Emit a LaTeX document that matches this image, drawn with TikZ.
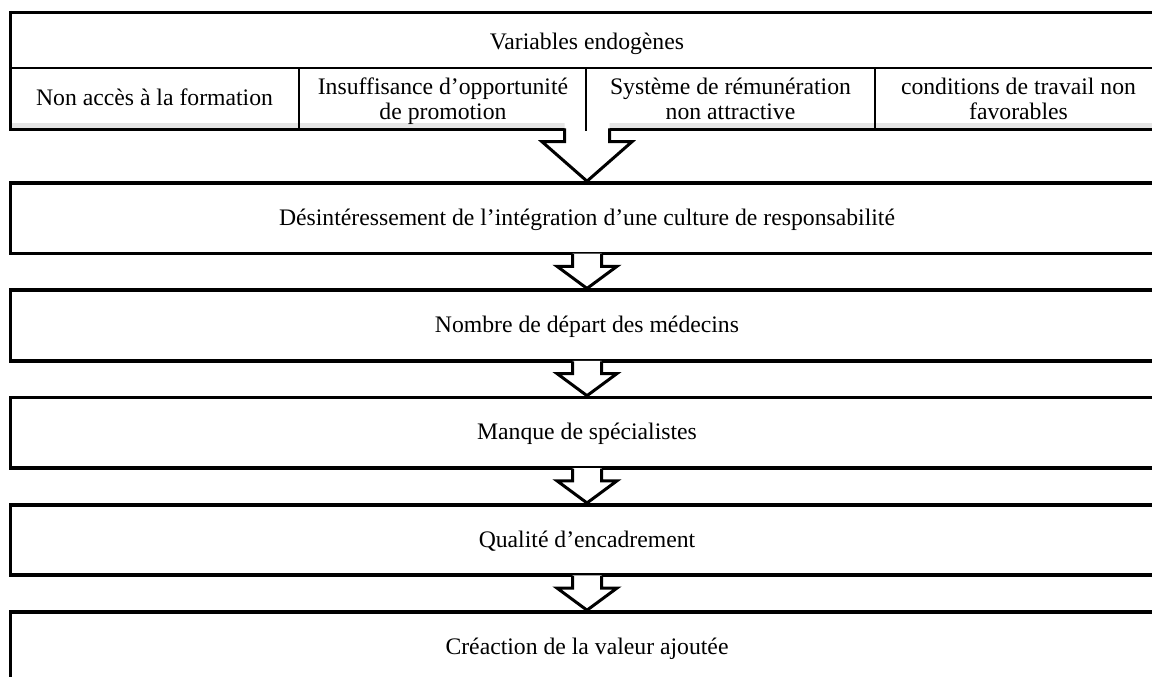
\documentclass[tikz,border=0pt]{standalone}
\usepackage{fontspec}
\setmainfont{Liberation Serif}
\usetikzlibrary{calc}
% #1 from, #2 to, #3 shaft half width, #4 head half width, #5 head offset, #6 fill start offset
\newcommand\BlkArr[6]{%
  \fill[white] ($(#1)+(-#3,#6)$) -- ($(#1)+(-#3,#5)$) -- ($(#1)+(-#4,#5)$) -- (#2)
     -- ($(#1)+(#4,#5)$) -- ($(#1)+(#3,#5)$) -- ($(#1)+(#3,#6)$) -- cycle;
  \draw[blockarrow] ($(#1)+(-#3,-1.2)$) -- ($(#1)+(-#3,#5)$) -- ($(#1)+(-#4,#5)$) -- (#2)
     -- ($(#1)+(#4,#5)$) -- ($(#1)+(#3,#5)$) -- ($(#1)+(#3,-1.2)$);}
\begin{document}
\begin{tikzpicture}[x=1pt,y=-1pt,
  txt/.style={font=\fontsize{23.7}{25}\selectfont, align=center, inner sep=0pt},
  stagebox/.style={draw, line width=3.6pt, minimum width=1153pt, minimum height=70.5pt,
                   inner sep=0pt, text height=21.5pt, text depth=7.5pt,
                   font=\fontsize{23.7}{25}\selectfont},
  tblthick/.style={line width=3pt},
  tblthin/.style={line width=2pt},
  blockarrow/.style={line width=3pt, line join=miter, line cap=butt},
]
\useasboundingbox (0,0) rectangle (1152,677);
\clip (0,0) rectangle (1152,677);

% ---------- top table ----------
\fill[black!10] (11.7,123.3) rectangle (1170,127.7);
\draw[tblthick] (9.3,12.5) -- (1170,12.5);
\draw[tblthick] (10.8,11) -- (10.8,68.5);
\draw[tblthin] (10.5,68.5) -- (1170,68.5);
\draw[line width=2.3pt] (10.5,68.5) -- (10.5,130.6);
\draw[line width=2.3pt] (9.4,129.5) -- (1170,129.5);
\coordinate (tblbot) at (587,129.5);

\node[txt] (hdr) at (587,44.5) {\strut Variables endogènes};
\node[txt] (c1) at (154.5,101) {\strut Non accès à la formation};
\node[txt] (c2) at (443,102.5) {\strut Insuffisance d’opportunité\\de promotion\strut};
\node[txt] (c3) at (730.5,102.5) {\strut Système de rémunération\\non attractive\strut};
\node[txt] (c4) at (1018.5,102.5) {\strut conditions de travail non\\favorables\strut};

% ---------- stage boxes ----------
\node[stagebox] (b1) at (587,218.25) {Désintéressement de l’intégration d’une culture de responsabilité};
\node[stagebox] (b2) at (587,325.5) {Nombre de départ des médecins};
\node[stagebox] (b3) at (587,432.75) {Manque de spécialistes};
\node[stagebox] (b4) at (587,540) {Qualité d’encadrement};
\node[stagebox] (b5) at (587,647.25) {Créaction de la valeur ajoutée};

% ---------- block arrows ----------
\BlkArr{tblbot}{b1.north}{22.5}{45}{12.2}{-6.5}
\draw[tblthin] (298.5,68.5) -- (298.5,130.6);
\draw[tblthin] (586,68.5) -- (586,130.6);
\draw[tblthin] (874.5,68.5) -- (874.5,130.6);

\BlkArr{b1.south}{b2.north}{14.5}{30}{11}{-1.6}
\BlkArr{b2.south}{b3.north}{14.5}{30}{11}{-1.6}
\BlkArr{b3.south}{b4.north}{14.5}{30}{11}{-1.6}
\BlkArr{b4.south}{b5.north}{14.5}{30}{11}{-1.6}
\end{tikzpicture}
\end{document}
